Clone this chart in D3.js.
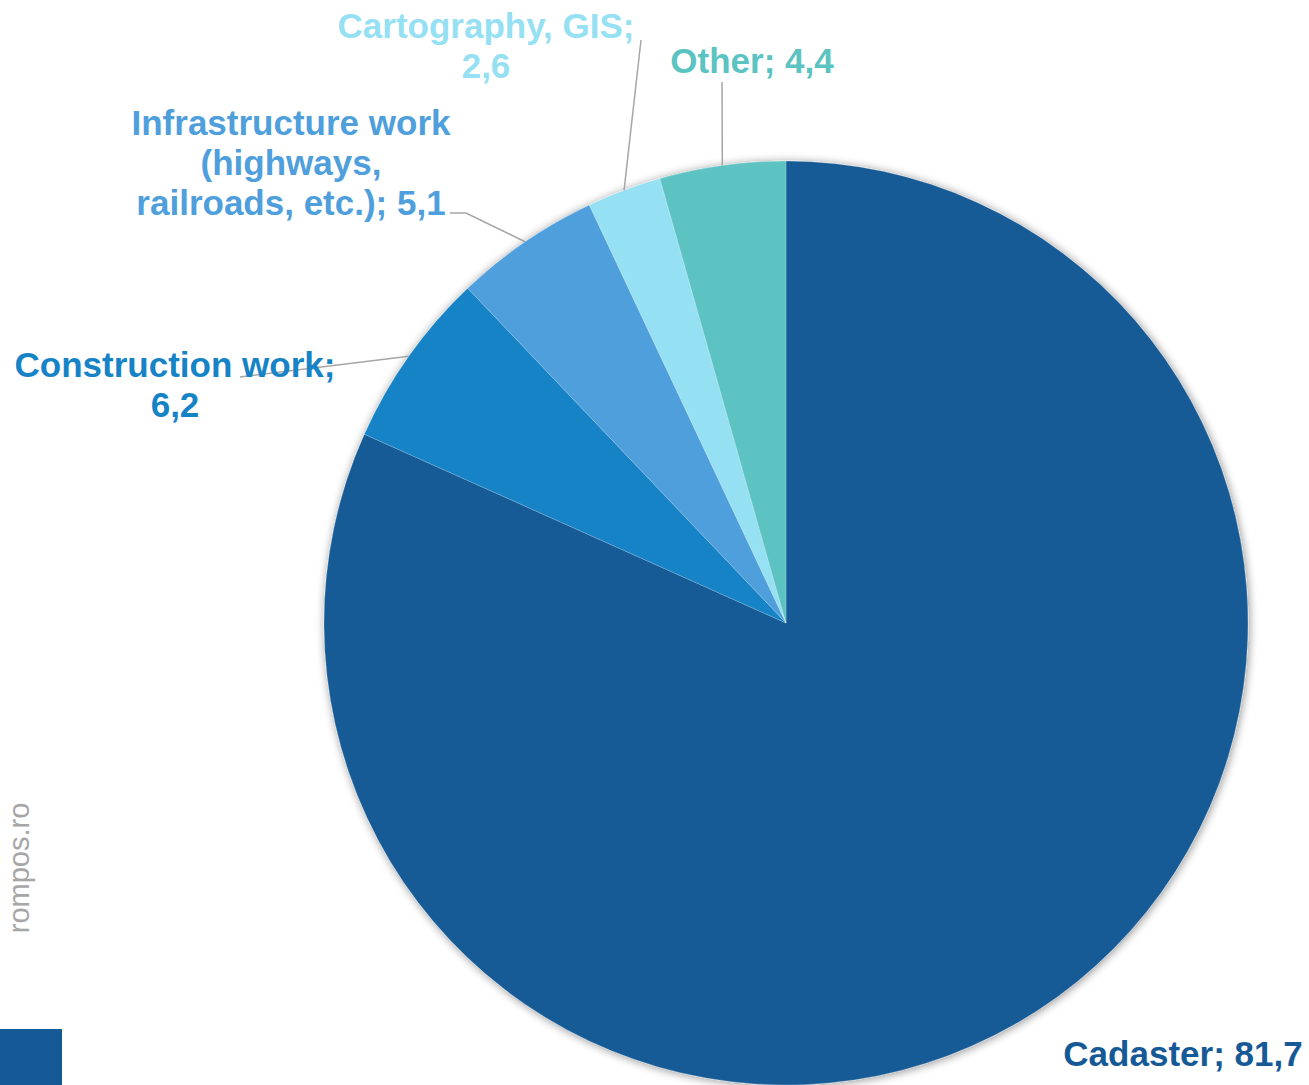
<!DOCTYPE html>
<html>
<head>
<meta charset="utf-8">
<script src="https://cdn.jsdelivr.net/npm/d3@7"></script>
<style>
  html, body { margin: 0; padding: 0; background: #fff; }
  svg { display: block; }
  text { font-family: "Liberation Sans", Arial, sans-serif; font-weight: bold; }
</style>
</head>
<body>
<svg id="chart" width="1309" height="1085"></svg>
<script>
// Survey: main field of activity (share, %)
const categories = ["Cadaster", "Construction work", "Infrastructure work (highways, railroads, etc.)", "Cartography, GIS", "Other"];
const shares = [81.7, 6.2, 5.1, 2.6, 4.4];
const valueLabels = ["81,7", "6,2", "5,1", "2,6", "4,4"];
const colors = ["#155A96", "#1783C7", "#4F9FDC", "#95E0F3", "#5BC3C2"];
// label text lines per slice
const labelLines = [
  ["Cadaster; 81,7"],
  ["Construction work;", "6,2"],
  ["Infrastructure work", "(highways,", "railroads, etc.); 5,1"],
  ["Cartography, GIS;", "2,6"],
  ["Other; 4,4"]
];

const svg = d3.select("#chart");
const cx = 786, cy = 623, radius = 462;

const defs = svg.append("defs");
const f = defs.append("filter").attr("id", "glow")
  .attr("x", "-10%").attr("y", "-10%").attr("width", "120%").attr("height", "120%");
f.append("feGaussianBlur").attr("in", "SourceAlpha").attr("stdDeviation", 5).attr("result", "b");
f.append("feOffset").attr("in", "b").attr("dx", 1).attr("dy", 1).attr("result", "o");
f.append("feComponentTransfer").attr("in", "o").attr("result", "s")
  .append("feFuncA").attr("type", "linear").attr("slope", 0.45);
const m = f.append("feMerge");
m.append("feMergeNode").attr("in", "s");
m.append("feMergeNode").attr("in", "SourceGraphic");

const data = categories.map((c, i) => ({ name: c, value: shares[i], color: colors[i], lines: labelLines[i] }));

const pie = d3.pie().value(d => d.value).sort(null);
const arc = d3.arc().innerRadius(0).outerRadius(radius);
const arcs = pie(data);

const g = svg.append("g").attr("transform", `translate(${cx},${cy})`);
g.append("g").attr("filter", "url(#glow)")
  .selectAll("path").data(arcs).join("path")
  .attr("d", arc)
  .attr("fill", d => d.data.color)
  .attr("stroke", "rgba(255,255,255,0.35)")
  .attr("stroke-width", 0.6);

// edge point of each slice at its mid angle
function edge(a) {
  const t = (a.startAngle + a.endAngle) / 2;
  return [cx + radius * Math.sin(t), cy - radius * Math.cos(t)];
}

// label anchors (centre x, first baseline y) and leader line starts
const labelPos = [
  { x: 1183, y: 1066, lead: null },
  { x: 175, y: 377, lead: [[240, 377]] },
  { x: 291, y: 135, lead: [[450, 213], [466, 213]] },
  { x: 486, y: 38, lead: [[641, 40]] },
  { x: 752, y: 73, lead: [[722, 82]] }
];

const leaders = svg.append("g");
const labels = svg.append("g");

arcs.forEach((a, i) => {
  const p = labelPos[i];
  if (p.lead) {
    const pts = p.lead.concat([edge(a)]);
    leaders.append("path")
      .attr("d", d3.line()(pts))
      .attr("fill", "none")
      .attr("stroke", "#A6A6A6")
      .attr("stroke-width", 1.5);
  }
  const t = labels.append("text")
    .attr("text-anchor", "middle")
    .attr("font-size", 35)
    .attr("fill", a.data.color);
  a.data.lines.forEach((ln, k) => {
    t.append("tspan").attr("x", p.x).attr("y", p.y + k * 40).text(ln);
  });
});

// watermark and corner block
svg.append("text")
  .attr("transform", "translate(29,868) rotate(-90)")
  .attr("text-anchor", "middle")
  .style("font-weight", "normal")
  .attr("font-size", 29)
  .attr("fill", "#A6A6A6")
  .text("rompos.ro");

svg.append("rect")
  .attr("x", 0).attr("y", 1029).attr("width", 62).attr("height", 56)
  .attr("fill", "#155A96");
</script>
</body>
</html>
